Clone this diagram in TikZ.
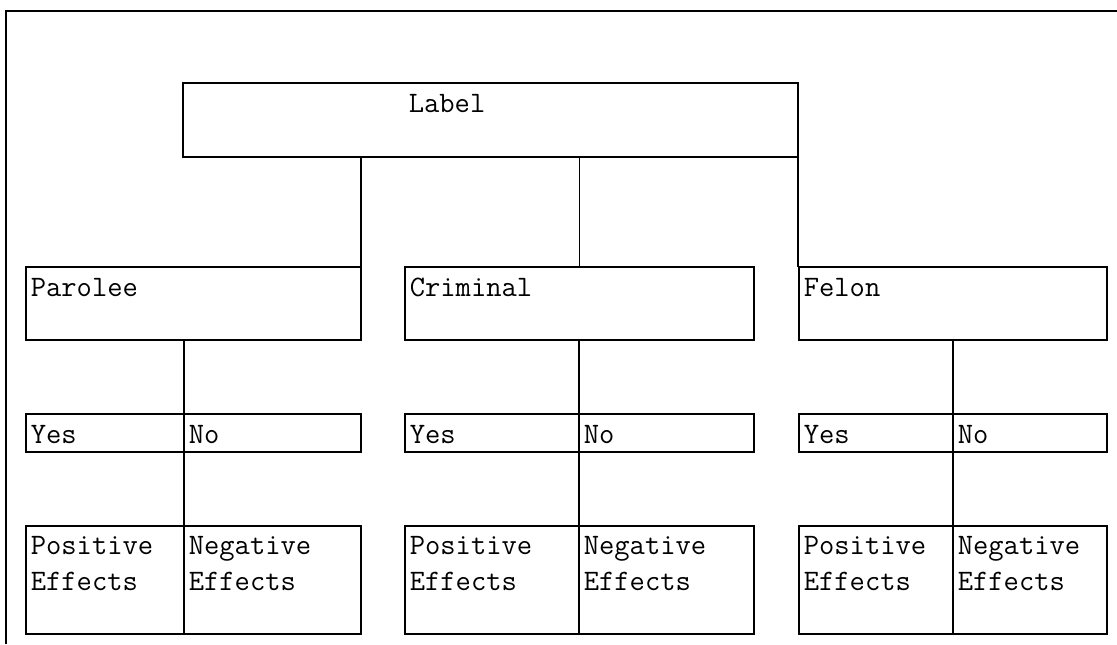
\documentclass[tikz,border=0pt]{standalone}
\usepackage{fontspec}
\newcommand{\unitpx}{0.01622cm}
\begin{document}
\begin{tikzpicture}[x=\unitpx,y=-\unitpx,line width=0.8pt,
		box/.style={draw,rectangle,anchor=north west,inner sep=0pt,outer sep=0pt},
		txt/.style={anchor=base west,inner sep=0pt,align=left,font=\ttfamily\fontsize{13.7}{16.2}\selectfont}]
	\useasboundingbox (0,0) rectangle (1117,644);
	% page frame
	\draw (6,644) -- (6,11) -- (1117,11);
	% top box
	\node[box,minimum width=615*\unitpx,minimum height=74*\unitpx] (lbl) at (183,83) {};
	\node[txt] (lbl-t) at ([shift={(225,29)}]lbl.north west) {Label};
	% second row
	\node[box,minimum width=335*\unitpx,minimum height=73*\unitpx] (par) at (26,267) {};
	\node[box,minimum width=349*\unitpx,minimum height=73*\unitpx] (cri) at (405,267) {};
	\node[box,minimum width=308*\unitpx,minimum height=73*\unitpx] (fel) at (799,267) {};
	\node[txt] (par-t) at ([shift={(4,29)}]par.north west) {Parolee};
	\node[txt] (cri-t) at ([shift={(4,29)}]cri.north west) {Criminal};
	\node[txt] (fel-t) at ([shift={(4,29)}]fel.north west) {Felon};
	% yes / no
	\node[box,minimum width=158*\unitpx,minimum height=38*\unitpx] (pyes) at (26,414) {};
	\node[box,minimum width=177*\unitpx,minimum height=38*\unitpx] (pno) at (184,414) {};
	\node[box,minimum width=174*\unitpx,minimum height=38*\unitpx] (cyes) at (405,414) {};
	\node[box,minimum width=175*\unitpx,minimum height=38*\unitpx] (cno) at (579,414) {};
	\node[box,minimum width=154*\unitpx,minimum height=38*\unitpx] (fyes) at (799,414) {};
	\node[box,minimum width=154*\unitpx,minimum height=38*\unitpx] (fno) at (953,414) {};
	\foreach \n in {pyes,cyes,fyes}
		\node[txt] (\n-t) at ([shift={(4,29)}]\n.north west) {Yes};
	\foreach \n in {pno,cno,fno}
		\node[txt] (\n-t) at ([shift={(4,29)}]\n.north west) {No};
	% effects
	\node[box,minimum width=158*\unitpx,minimum height=108*\unitpx] (ppos) at (26,526) {};
	\node[box,minimum width=177*\unitpx,minimum height=108*\unitpx] (pneg) at (184,526) {};
	\node[box,minimum width=174*\unitpx,minimum height=108*\unitpx] (cpos) at (405,526) {};
	\node[box,minimum width=175*\unitpx,minimum height=108*\unitpx] (cneg) at (579,526) {};
	\node[box,minimum width=154*\unitpx,minimum height=108*\unitpx] (fpos) at (799,526) {};
	\node[box,minimum width=154*\unitpx,minimum height=108*\unitpx] (fneg) at (953,526) {};
	% two lines: base is the last line
	\foreach \n in {ppos,cpos,fpos}
		\node[txt] (\n-t) at ([shift={(4,64)}]\n.north west) {Positive\\Effects};
	\foreach \n in {pneg,cneg,fneg}
		\node[txt] (\n-t) at ([shift={(4,64)}]\n.north west) {Negative\\Effects};
	% connectors
	\draw (par.north east |- lbl.south) -- (par.north east);
	\draw (cri.north |- lbl.south) -- (cri.north);
	\draw (lbl.south east) -- (lbl.south east |- fel.north);
	\draw (pno.north west |- par.south) -- (pno.north west);
	\draw (cno.north west |- cri.south) -- (cno.north west);
	\draw (fno.north west |- fel.south) -- (fno.north west);
	\draw (pno.south west) -- (pneg.north west);
	\draw (cno.south west) -- (cneg.north west);
	\draw (fno.south west) -- (fneg.north west);
\end{tikzpicture}
\end{document}
